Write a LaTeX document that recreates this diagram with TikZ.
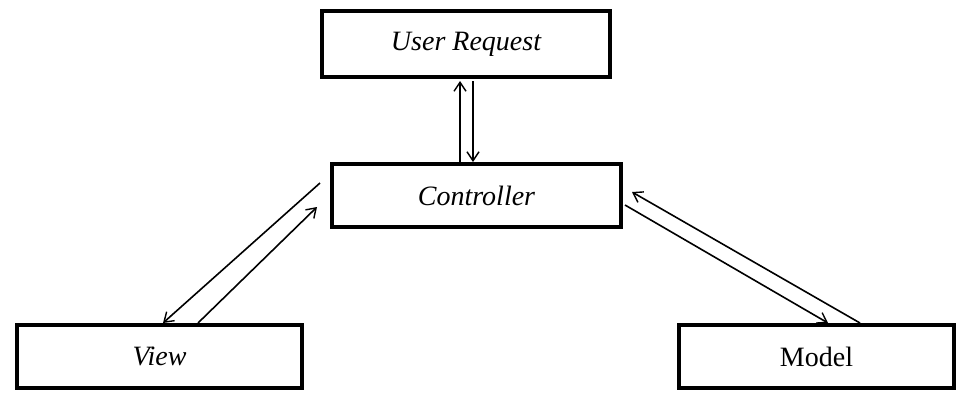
\documentclass[tikz,border=0pt]{standalone}
\usepackage{fontspec}
\setmainfont{Liberation Serif}
\usetikzlibrary{arrows.meta,calc}
\begin{document}
\begin{tikzpicture}[x=1pt,y=-1pt,
  box/.style={draw=black,line width=4pt,rectangle,inner sep=0pt,font=\fontsize{28}{32}\selectfont},
  conn/.style={draw=black,line width=1.6pt,-{Straight Barb[length=9pt,width=12pt,line width=1.4pt]}}]
\useasboundingbox (0,0) rectangle (962,392);
\node[box,minimum width=288pt,minimum height=66pt] (ur) at (466,44) {\itshape User Request};
\node[box,minimum width=289pt,minimum height=63pt] (ctrl) at (476.5,195.5) {\itshape Controller};
\node[box,minimum width=285pt,minimum height=63pt] (view) at (159.5,356.5) {\itshape View};
\node[box,minimum width=275pt,minimum height=63pt] (model) at (816.5,356.5) {Model};
% User Request <-> Controller
\draw[conn] ($(ctrl.north)+(-16.5,0)$) -- ($(ur.south)+(-6,2)$);
\draw[conn] ($(ur.south)+(7,2)$) -- ($(ctrl.north)+(-3.5,0)$);
% Controller <-> View
\coordinate (va) at ($(ctrl.west)+(-10,-12.5)$);
\coordinate (vb) at ($(ctrl.west)+(-13,11.5)$);
\draw[conn] (va) -- ($(view.north)+(3.5,0)$);
\draw[conn] ($(view.north)+(38.5,0)$) -- (vb);
% Controller <-> Model
\draw[conn] ($(ctrl.east)+(2,9.5)$) -- ($(model.north)+(11.5,0)$);
\draw[conn] ($(model.north)+(43.5,0)$) -- ($(ctrl.east)+(9,-3.5)$);
\end{tikzpicture}
\end{document}
